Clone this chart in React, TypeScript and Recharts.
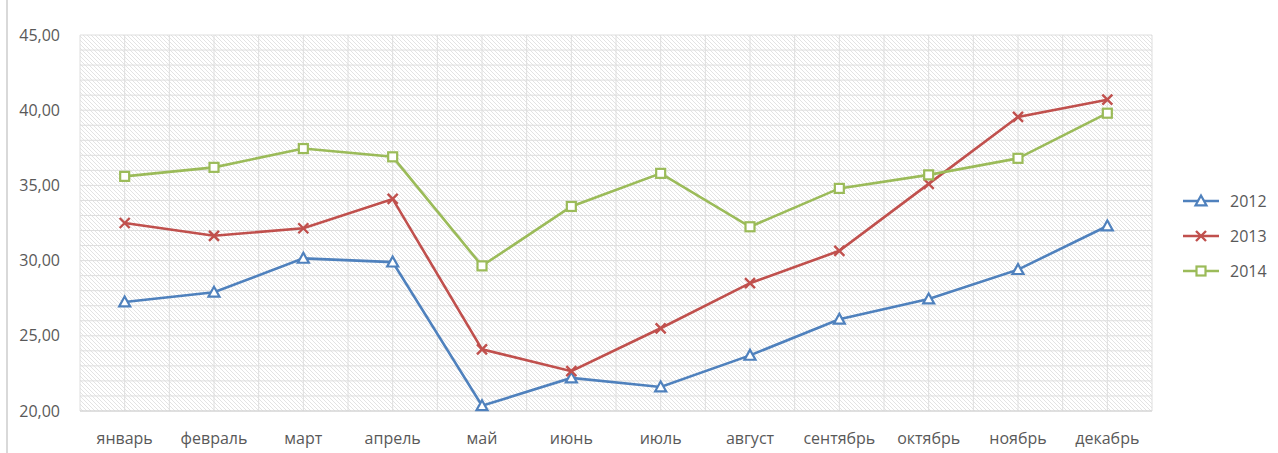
import React from "react";
import { LineChart, Line, XAxis, YAxis, CartesianGrid } from "recharts";

const months = ["январь", "февраль", "март", "апрель", "май", "июнь", "июль", "август", "сентябрь", "октябрь", "ноябрь", "декабрь"];
const s2012 = [27.25, 27.9, 30.15, 29.9, 20.35, 22.2, 21.6, 23.7, 26.1, 27.45, 29.4, 32.3];
const s2013 = [32.5, 31.65, 32.15, 34.1, 24.1, 22.65, 25.5, 28.5, 30.65, 35.1, 39.55, 40.7];
const s2014 = [35.6, 36.2, 37.45, 36.9, 29.65, 33.6, 35.8, 32.25, 34.8, 35.7, 36.8, 39.8];
const yTicks = [20, 25, 30, 35, 40, 45];

const data = months.map((m, i) => ({ month: m, y2012: s2012[i], y2013: s2013[i], y2014: s2014[i] }));

const BLUE = "#4F81BD";
const RED = "#C0504D";
const GREEN = "#9BBB59";

const Tri = (p: any) => {
  const { cx, cy, key } = p;
  if (cx == null || cy == null) return <g key={key} />;
  const r = 5.5;
  return (
    <polygon
      key={key}
      points={`${cx},${cy - r} ${cx + r},${cy + r * 0.8} ${cx - r},${cy + r * 0.8}`}
      fill="#fff"
      stroke={BLUE}
      strokeWidth={2.2}
    />
  );
};
const Cross = (p: any) => {
  const { cx, cy, key } = p;
  if (cx == null || cy == null) return <g key={key} />;
  const r = 5;
  return (
    <path key={key} d={`M${cx - r},${cy - r}L${cx + r},${cy + r}M${cx - r},${cy + r}L${cx + r},${cy - r}`} stroke={RED} strokeWidth={2.4} fill="none" />
  );
};
const Sq = (p: any) => {
  const { cx, cy, key } = p;
  if (cx == null || cy == null) return <g key={key} />;
  const r = 4.5;
  return <rect key={key} x={cx - r} y={cy - r} width={2 * r} height={2 * r} fill="#fff" stroke={GREEN} strokeWidth={2.2} />;
};

const legendItems = [
  { name: "2012", color: BLUE, kind: "tri" },
  { name: "2013", color: RED, kind: "cross" },
  { name: "2014", color: GREEN, kind: "sq" },
];

const LegendBox = () => (
  <svg width={110} height={110} style={{ position: "absolute", left: 1175, top: 186 }}>
    {legendItems.map((it, i) => {
      const y = 15 + i * 35;
      const cx = 26;
      return (
        <g key={it.name}>
          <line x1={8} x2={44} y1={y} y2={y} stroke={it.color} strokeWidth={2.6} />
          {it.kind === "tri" && <Tri cx={cx} cy={y} />}
          {it.kind === "cross" && <Cross cx={cx} cy={y} />}
          {it.kind === "sq" && <Sq cx={cx} cy={y} />}
          <text x={55} y={y + 6} fontSize={16} fill="#595959" fontFamily="'Open Sans', sans-serif">
            {it.name}
          </text>
        </g>
      );
    })}
  </svg>
);

export default function App() {
  return (
    <div style={{ position: "absolute", left: 0, top: 0, width: 1278, height: 453, background: "#fff" }}>
      <div style={{ position: "absolute", left: 6, top: 0, width: 2, height: 453, background: "#d9d9d9" }} />
      <LineChart width={1278} height={453} data={data} margin={{ top: 35, right: 126, bottom: 12, left: 0 }}>
        <defs>
          <pattern id="hatch" patternUnits="userSpaceOnUse" width={4} height={4}>
            <rect width={4} height={4} fill="#ffffff" />
            <path d="M-1,-1L5,5M-1,3L1,5M3,-1L5,1" stroke="#e3e3e3" strokeWidth={1} />
          </pattern>
        </defs>
        <CartesianGrid
          fill="url(#hatch)"
          stroke="#dedede"
          horizontalCoordinatesGenerator={({ offset }: any) =>
            Array.from({ length: 26 }, (_, i) => offset.top + (i * offset.height) / 25)
          }
          verticalCoordinatesGenerator={({ offset }: any) =>
            Array.from({ length: 25 }, (_, i) => offset.left + (i * offset.width) / 24)
          }
        />
        <XAxis
          dataKey="month"
          tickLine={false}
          axisLine={{ stroke: "#d0d0d0" }}
          tickMargin={16}
          height={30}
          padding={{ left: 44.67, right: 44.67 }}
          tick={{ fill: "#595959", fontSize: 16, fontFamily: "'Open Sans', sans-serif" }}
          interval={0}
        />
        <YAxis
          domain={[20, 45]}
          ticks={yTicks}
          width={80}
          axisLine={false}
          tickLine={false}
          tickMargin={14}
          tickFormatter={(v: number) => v.toFixed(2).replace(".", ",")}
          tick={{ fill: "#595959", fontSize: 16, fontFamily: "'Open Sans', sans-serif" }}
        />
        <Line type="linear" dataKey="y2012" stroke={BLUE} strokeWidth={2.6} dot={Tri} isAnimationActive={false} />
        <Line type="linear" dataKey="y2013" stroke={RED} strokeWidth={2.6} dot={Cross} isAnimationActive={false} />
        <Line type="linear" dataKey="y2014" stroke={GREEN} strokeWidth={2.6} dot={Sq} isAnimationActive={false} />
      </LineChart>
      <LegendBox />
    </div>
  );
}
